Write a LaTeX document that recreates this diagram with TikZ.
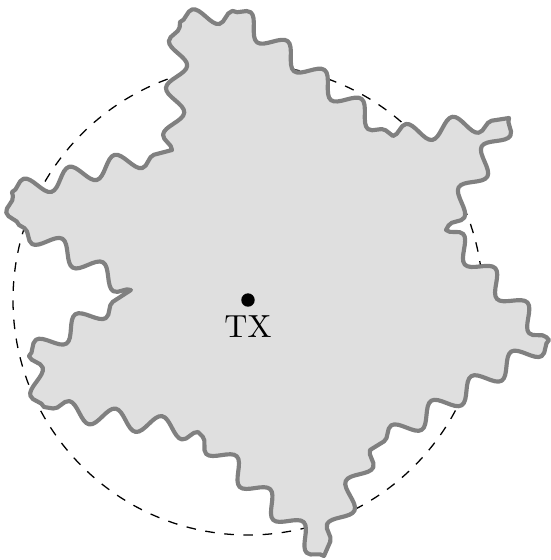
\documentclass[tikz,border=0pt]{standalone}
\usetikzlibrary{decorations.pathmorphing, positioning}
\definecolor{zonefill}{RGB}{223,223,223}
\definecolor{zoneedge}{RGB}{128,128,128}
\tikzset{
  nomrange/.style = {dashed, line width=0.4pt},
  zone/.style     = {draw=zoneedge, fill=zonefill, line width=1.3pt, line join=round,
                     decoration={snake, segment length=14.7pt, amplitude=3.1pt}},
  txdot/.style    = {circle, fill=black, inner sep=0pt, minimum size=4.2pt},
}

\begin{document}
\begin{tikzpicture}[x=0.011cm, y=-0.011cm]
  \useasboundingbox (0,0) rectangle (551,560);
  \coordinate (c) at (248,300);

  % nominal range
  \draw[nomrange] (c) circle[radius=235];

  % actual coverage, each edge waved on its own
  \draw[zone] (19,225) decorate {-- (12,192)} decorate {-- (172,150)}
    decorate {-- (180,22)} decorate {-- (233,11)} decorate {-- (393,136)}
    decorate {-- (509,118)} decorate {-- (446,230)} decorate {-- (549,340)}
    decorate {-- (370,450)} decorate {-- (324,556)} decorate {-- (198,432)}
    decorate {-- (44,407)} decorate {-- (29,356)} decorate {-- (131,290)}
    decorate {-- (19,225)} -- cycle;

  \node[txdot] (tx) at (c) {};
  \node[below=-1pt of tx] (txlabel) {TX};
\end{tikzpicture}
\end{document}
